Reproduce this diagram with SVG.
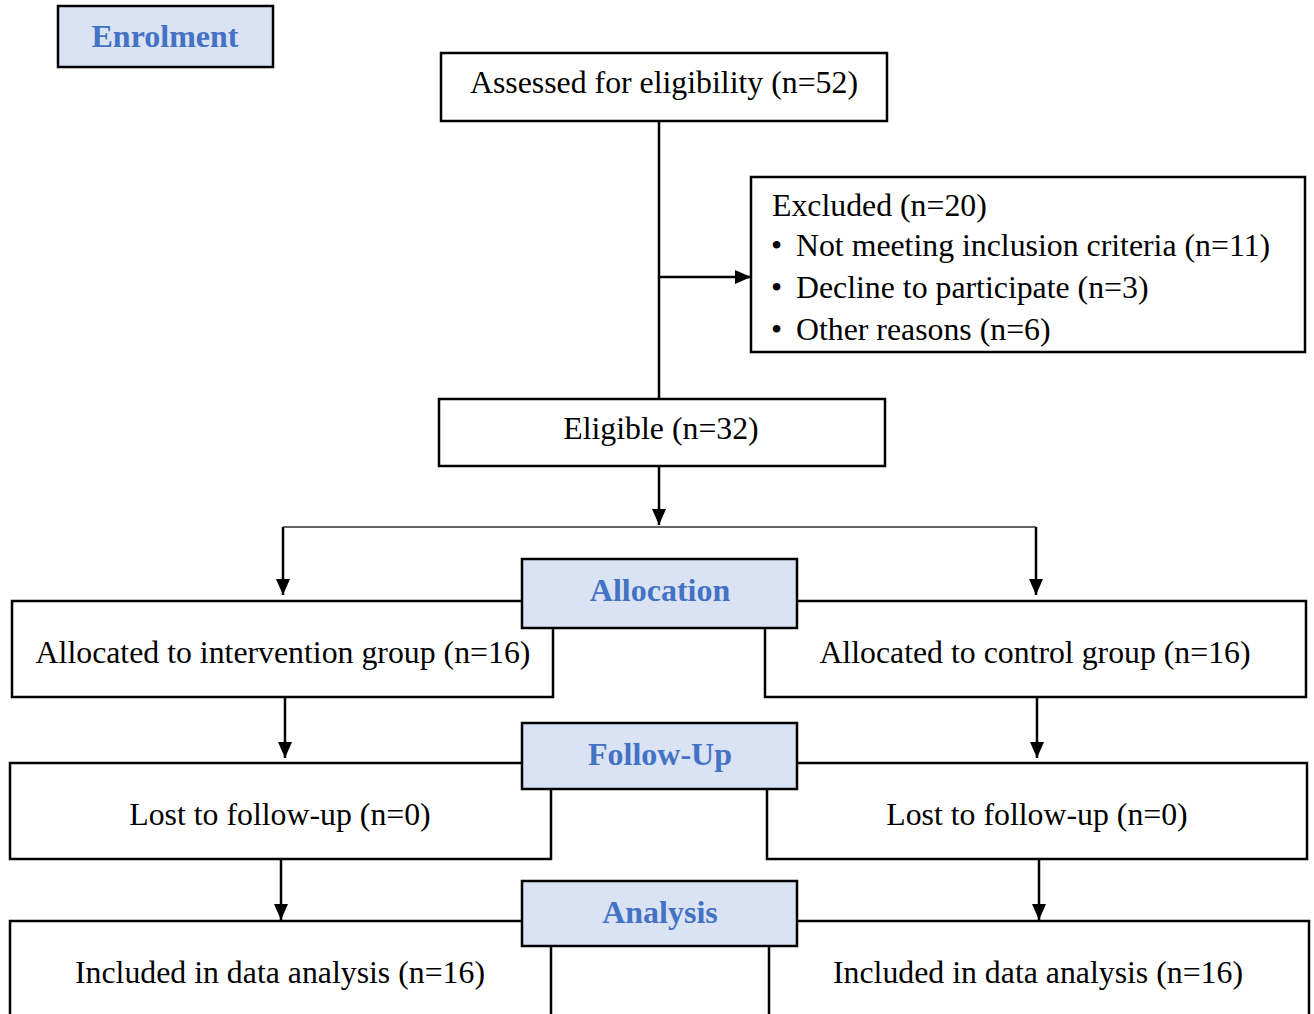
<svg xmlns="http://www.w3.org/2000/svg" width="1314" height="1014" viewBox="0 0 1314 1014">
<style>
.box{fill:#fff;stroke:#000;stroke-width:2.5}
.hdr{fill:#dae3f3;stroke:#000;stroke-width:2.5}
.t{font-family:"Liberation Serif","Times New Roman",serif;font-size:31.8px;fill:#000}
.c{text-anchor:middle}
.h{font-family:"Liberation Serif","Times New Roman",serif;font-size:32px;font-weight:bold;fill:#4472c4;text-anchor:middle}
.ln{stroke:#000;stroke-width:2.5;fill:none}
.thin{stroke:#333;stroke-width:1.5;fill:none}
</style>
<defs>
<marker id="a" viewBox="0 0 16 14" refX="16" refY="7" markerWidth="16" markerHeight="14" orient="auto" markerUnits="userSpaceOnUse">
<path d="M0,0 L16,7 L0,14 Z" fill="#000"/>
</marker>
</defs>
<g id="connectors">
<line class="ln" x1="659" y1="121" x2="659" y2="399"/>
<line class="ln" x1="659" y1="277" x2="751" y2="277" marker-end="url(#a)"/>
<line class="ln" x1="659" y1="466" x2="659" y2="525" marker-end="url(#a)"/>
<polyline class="thin" points="283,527 1036,527"/>
<line class="ln" x1="283" y1="527" x2="283" y2="595" marker-end="url(#a)"/>
<line class="ln" x1="1036" y1="527" x2="1036" y2="595" marker-end="url(#a)"/>
<line class="ln" x1="285" y1="697" x2="285" y2="758" marker-end="url(#a)"/>
<line class="ln" x1="1037" y1="697" x2="1037" y2="758" marker-end="url(#a)"/>
<line class="ln" x1="281" y1="859" x2="281" y2="920" marker-end="url(#a)"/>
<line class="ln" x1="1039" y1="859" x2="1039" y2="920" marker-end="url(#a)"/>
</g>
<g id="enrolment"><rect class="hdr" x="58" y="6" width="215" height="61"/><text class="h" x="165" y="47">Enrolment</text></g>
<g id="assessed"><rect class="box" x="441" y="53" width="446" height="68"/><text class="t c" x="664" y="93">Assessed for eligibility (n=52)</text></g>
<g id="excluded"><rect class="box" x="751" y="177" width="554" height="175"/>
<text class="t" x="772" y="216">Excluded (n=20)</text>
<text class="t" x="771" y="256">•</text><text class="t" x="796" y="256">Not meeting inclusion criteria (n=11)</text>
<text class="t" x="771" y="298">•</text><text class="t" x="796" y="298">Decline to participate (n=3)</text>
<text class="t" x="771" y="340">•</text><text class="t" x="796" y="340">Other reasons (n=6)</text>
</g>
<g id="eligible"><rect class="box" x="439" y="399" width="446" height="67"/><text class="t c" x="661" y="439">Eligible (n=32)</text></g>
<g id="alloc-left"><rect class="box" x="12" y="601" width="541" height="96"/><text class="t c" x="283" y="663">Allocated to intervention group (n=16)</text></g>
<g id="alloc-right"><rect class="box" x="765" y="601" width="541" height="96"/><text class="t c" x="1035" y="663">Allocated to control group (n=16)</text></g>
<g id="allocation"><rect class="hdr" x="522" y="559" width="275" height="69"/><text class="h" x="660" y="601">Allocation</text></g>
<g id="follow-left"><rect class="box" x="10" y="763" width="541" height="96"/><text class="t c" x="280" y="825">Lost to follow-up (n=0)</text></g>
<g id="follow-right"><rect class="box" x="767" y="763" width="540" height="96"/><text class="t c" x="1037" y="825">Lost to follow-up (n=0)</text></g>
<g id="followup"><rect class="hdr" x="522" y="723" width="275" height="66"/><text class="h" x="660" y="765">Follow-Up</text></g>
<g id="analysis-left"><rect class="box" x="10" y="921" width="541" height="110"/><text class="t c" x="280" y="983">Included in data analysis (n=16)</text></g>
<g id="analysis-right"><rect class="box" x="769" y="921" width="540" height="110"/><text class="t c" x="1038" y="983">Included in data analysis (n=16)</text></g>
<g id="analysis"><rect class="hdr" x="522" y="881" width="275" height="65"/><text class="h" x="660" y="923">Analysis</text></g>
</svg>
